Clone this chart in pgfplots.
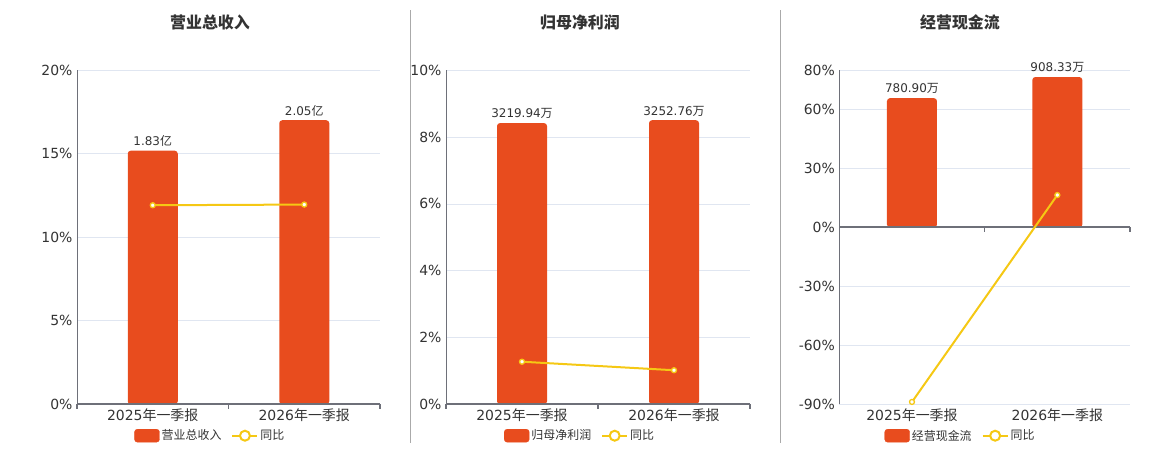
\documentclass[border=0pt]{standalone}
\usepackage{pgfplots}
\pgfplotsset{compat=1.18}
\usepackage{fontspec}
\setmainfont{DejaVu Sans}
\newfontfamily\cjk{Noto Sans CJK SC}
\definecolor{barorange}{RGB}{232,76,30}
\definecolor{lineyellow}{RGB}{245,200,20}
\definecolor{axisgray}{RGB}{110,112,121}
\definecolor{gridc}{RGB}{224,230,241}
\definecolor{txt}{RGB}{51,51,51}
\definecolor{sep}{RGB}{170,170,170}

\pgfplotsset{
  pctaxis/.style={
    scale only axis, height=334bp,
    xmin=-0.5, xmax=1.5,
    axis y line*=left, axis x line*=bottom,
    x axis line style={draw=none},
    y axis line style={-, draw=axisgray, line width=1bp},
    ymajorgrids, grid style={gridc, line width=0.8bp},
    xtick={0,1}, major tick length=0pt,
    tick style={draw=none},
    /pgf/number format/assume math mode=true,
    yticklabel={\pgfmathprintnumber{\tick}\%},
    ticklabel style={font=\fontsize{14}{16}\selectfont, text=txt},
    yticklabel style={xshift=-1bp},
    xticklabel style={yshift=-1bp},
    legend style={draw=none, fill=none, anchor=center,
      font=\cjk\fontsize{12}{14}\selectfont, text=txt,
      /tikz/every even column/.append style={column sep=8bp}},
    legend columns=2,
    legend cell align=left,
  },
  baraxis/.style={
    scale only axis, height=334bp,
    xmin=-0.5, xmax=1.5, hide axis, clip=false,
    ybar, bar width=50bp,
    point meta=explicit symbolic,
    nodes near coords,
    every node near coord/.append style={font=\fontsize{12}{14}\selectfont, text=txt, inner sep=4bp},
  },
  lineaxis/.style={
    scale only axis, height=334bp,
    xmin=-0.5, xmax=1.5, hide axis, clip=false,
  },
  barstyle/.style={fill=barorange, draw=none, rounded corners=3bp},
  linestyle/.style={draw=lineyellow, line width=2bp, mark=*, mark size=2.5bp,
    mark options={fill=white, draw=lineyellow, line width=1.3bp}},
  barlegend/.style={legend image code/.code={
    \fill[barorange, rounded corners=3bp] (0bp,-6.5bp) rectangle (25bp,6.5bp);}},
  linelegend/.style={legend image code/.code={
    \draw[lineyellow, line width=2bp] (0bp,0bp) -- (25bp,0bp);
    \draw[lineyellow, fill=white, line width=2bp] (12.5bp,0bp) circle (5bp);}},
  xaxisdraw/.style={execute at end axis={
    \draw[axisgray, line width=2bp] (axis cs:-0.5,0) -- (axis cs:1.5,0);
    \draw[axisgray, line width=1.2bp] (axis cs:-0.5,0) -- ([yshift=-5bp]axis cs:-0.5,0);
    \draw[axisgray, line width=1.2bp] (axis cs:0.5,0) -- ([yshift=-5bp]axis cs:0.5,0);
    \draw[axisgray, line width=1.2bp] (axis cs:1.5,0) -- ([yshift=-5bp]axis cs:1.5,0);
  }},
}

\begin{document}
\begin{tikzpicture}
\useasboundingbox (0bp,0bp) rectangle (1160bp,-450bp);
% separators
\draw[sep, line width=1bp] (410.5bp,-10bp) -- (410.5bp,-443bp);
\draw[sep, line width=1bp] (780.5bp,-10bp) -- (780.5bp,-443bp);
% titles
\node[font=\cjk\bfseries\fontsize{16}{18}\selectfont, text=txt] at (210bp,-22.5bp) {营业总收入};
\node[font=\cjk\bfseries\fontsize{16}{18}\selectfont, text=txt] at (580bp,-22.5bp) {归母净利润};
\node[font=\cjk\bfseries\fontsize{16}{18}\selectfont, text=txt] at (960bp,-22.5bp) {经营现金流};

% ---------- Panel 1 ----------
\begin{axis}[pctaxis, at={(77bp,-404.3bp)}, anchor=south west, width=303bp,
  ymin=0, ymax=20, ytick={0,5,10,15,20},
  xticklabels={{2025\cjk 年一季报},{2026\cjk 年一季报}},
  legend style={at={(0.44,-0.094)}}]
\addlegendimage{barlegend}\addlegendentry{营业总收入}
\addlegendimage{linelegend}\addlegendentry{同比}
\end{axis}
\begin{axis}[baraxis, at={(77bp,-404.3bp)}, anchor=south west, width=303bp,
  ymin=0, ymax=2.41,
  nodes near coords={\pgfplotspointmeta{\cjk 亿}}]
\addplot[barstyle] coordinates {(0,1.83) [1.83] (1,2.05) [2.05]};
\end{axis}
\begin{axis}[lineaxis, xaxisdraw, at={(77bp,-404.3bp)}, anchor=south west, width=303bp,
  ymin=0, ymax=20]
\addplot[linestyle] coordinates {(0,11.92) (1,11.96)};
\end{axis}

% ---------- Panel 2 ----------
\begin{axis}[pctaxis, at={(446bp,-404.3bp)}, anchor=south west, width=304bp,
  ymin=0, ymax=10, ytick={0,2,4,6,8,10},
  xticklabels={{2025\cjk 年一季报},{2026\cjk 年一季报}},
  legend style={at={(0.441,-0.094)}}]
\addlegendimage{barlegend}\addlegendentry{归母净利润}
\addlegendimage{linelegend}\addlegendentry{同比}
\end{axis}
\begin{axis}[baraxis, at={(446bp,-404.3bp)}, anchor=south west, width=304bp,
  ymin=0, ymax=3824,
  nodes near coords={\pgfplotspointmeta{\cjk 万}}]
\addplot[barstyle] coordinates {(0,3219.94) [3219.94] (1,3252.76) [3252.76]};
\end{axis}
\begin{axis}[lineaxis, xaxisdraw, at={(446bp,-404.3bp)}, anchor=south west, width=304bp,
  ymin=0, ymax=10]
\addplot[linestyle] coordinates {(0,1.275) (1,1.02)};
\end{axis}

% ---------- Panel 3 ----------
\begin{axis}[pctaxis, at={(839.3bp,-404.3bp)}, anchor=south west, width=290.7bp,
  ymin=-90, ymax=80, ytick={-90,-60,-30,0,30,60,80},
  xticklabels={{2025\cjk 年一季报},{2026\cjk 年一季报}},
  legend style={at={(0.417,-0.094)}}]
\addlegendimage{barlegend}\addlegendentry{经营现金流}
\addlegendimage{linelegend}\addlegendentry{同比}
\end{axis}
\begin{axis}[baraxis, at={(839.3bp,-404.3bp)}, anchor=south west, width=290.7bp,
  ymin=-1067.6, ymax=949,
  nodes near coords={\pgfplotspointmeta{\cjk 万}}]
\addplot[barstyle] coordinates {(0,780.90) [780.90] (1,908.33) [908.33]};
\end{axis}
\begin{axis}[lineaxis, at={(839.3bp,-404.3bp)}, anchor=south west, width=290.7bp,
  ymin=-90, ymax=80]
\draw[axisgray, line width=2bp] (axis cs:-0.5,0) -- (axis cs:1.5,0);
\draw[axisgray, line width=1.2bp] (axis cs:-0.5,0) -- ([yshift=-5bp]axis cs:-0.5,0);
\draw[axisgray, line width=1.2bp] (axis cs:0.5,0) -- ([yshift=-5bp]axis cs:0.5,0);
\draw[axisgray, line width=1.2bp] (axis cs:1.5,0) -- ([yshift=-5bp]axis cs:1.5,0);
\addplot[linestyle] coordinates {(0,-88.8) (1,16.5)};
\end{axis}
\end{tikzpicture}
\end{document}
